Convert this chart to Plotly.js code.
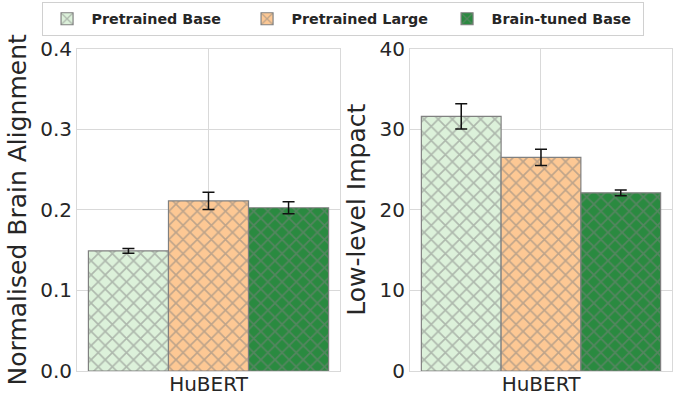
<!DOCTYPE html>
<html>
<head>
<meta charset="utf-8">
<script src="https://cdn.plot.ly/plotly-3.0.1.min.js"></script>
<style>html,body{margin:0;padding:0;background:#fff;}#chart{width:673px;height:395px;}</style>
</head>
<body>
<div id="chart"></div>
<script>
const categories = ["HuBERT"];
const seriesNames = ["Pretrained Base", "Pretrained Large", "Brain-tuned Base"];
const alignment = [0.149, 0.211, 0.2025];
const alignmentErr = [0.003, 0.0107, 0.0074];
const impact = [31.6, 26.5, 22.1];
const impactErr = [1.57, 1.0, 0.37];
const colors = ["#dcf1da", "#fdc894", "#2a8a40"];

const traces = [];
seriesNames.forEach((name, i) => {
  const common = {
    type: "bar",
    name: name,
    x: categories,
    legendgroup: name,
    marker: {
      color: colors[i],
      line: {color: "#808080", width: 1.2},
      pattern: {shape: "x", fgcolor: "#7f7f7f", bgcolor: colors[i], size: 10, solidity: 0.3, fillmode: "overlay"}
    }
  };
  traces.push(Object.assign({}, common, {
    y: [alignment[i]],
    error_y: {type: "data", array: [alignmentErr[i]], color: "#111", thickness: 1.5, width: 6},
    xaxis: "x", yaxis: "y", showlegend: true
  }));
  traces.push(Object.assign({}, common, {
    y: [impact[i]],
    error_y: {type: "data", array: [impactErr[i]], color: "#111", thickness: 1.5, width: 6},
    xaxis: "x2", yaxis: "y2", showlegend: false
  }));
});

const gridC = "#d9d9d9";
const tickFont = {family: "DejaVu Sans", size: 20, color: "#262626"};
const titleFont = {family: "DejaVu Sans", size: 25, color: "#262626"};
const xCommon = {
  type: "category", range: [-0.438, 0.438], showgrid: true, gridcolor: gridC, gridwidth: 1,
  showline: true, linecolor: gridC, linewidth: 1, mirror: true, ticks: "", ticklabelstandoff: -5,
  tickfont: {family: "DejaVu Sans", size: 20, color: "#262626"}, automargin: false, fixedrange: true
};
const yCommon = {
  showgrid: true, gridcolor: gridC, gridwidth: 1, showline: true, linecolor: gridC, linewidth: 1, mirror: true,
  ticks: "", tickfont: tickFont, zeroline: false, automargin: false, domain: [0.0608, 0.877]
};

const layout = {
  width: 673, height: 395,
  margin: {l: 0, r: 0, t: 0, b: 0},
  paper_bgcolor: "#fff", plot_bgcolor: "#fff",
  barmode: "group", bargap: 0.2, bargroupgap: 0,
  font: {family: "DejaVu Sans", color: "#262626"},
  xaxis: Object.assign({}, xCommon, {domain: [0.1144, 0.5052], anchor: "y"}),
  xaxis2: Object.assign({}, xCommon, {domain: [0.6092, 0.9985], anchor: "y2"}),
  yaxis: Object.assign({}, yCommon, {range: [0, 0.4], dtick: 0.1, tickformat: ".1f", anchor: "x",
    title: {text: "Normalised Brain Alignment", font: titleFont, standoff: 6}}),
  yaxis2: Object.assign({}, yCommon, {range: [0, 40], dtick: 10, anchor: "x2",
    title: {text: "Low-level Impact", font: titleFont, standoff: 6}}),
  legend: {
    orientation: "h", x: 0.509, xanchor: "center", y: 0.995, yanchor: "top",
    bordercolor: "#d0d0d0", borderwidth: 1, bgcolor: "#fff",
    font: {family: "DejaVu Sans", size: 14.3, color: "#262626", weight: "bold"},
    itemwidth: 39, entrywidth: 146, entrywidthmode: "pixels",
    traceorder: "normal"
  },
  showlegend: true
};

Plotly.newPlot("chart", traces, layout, {displayModeBar: false, staticPlot: true});
</script>
</body>
</html>
